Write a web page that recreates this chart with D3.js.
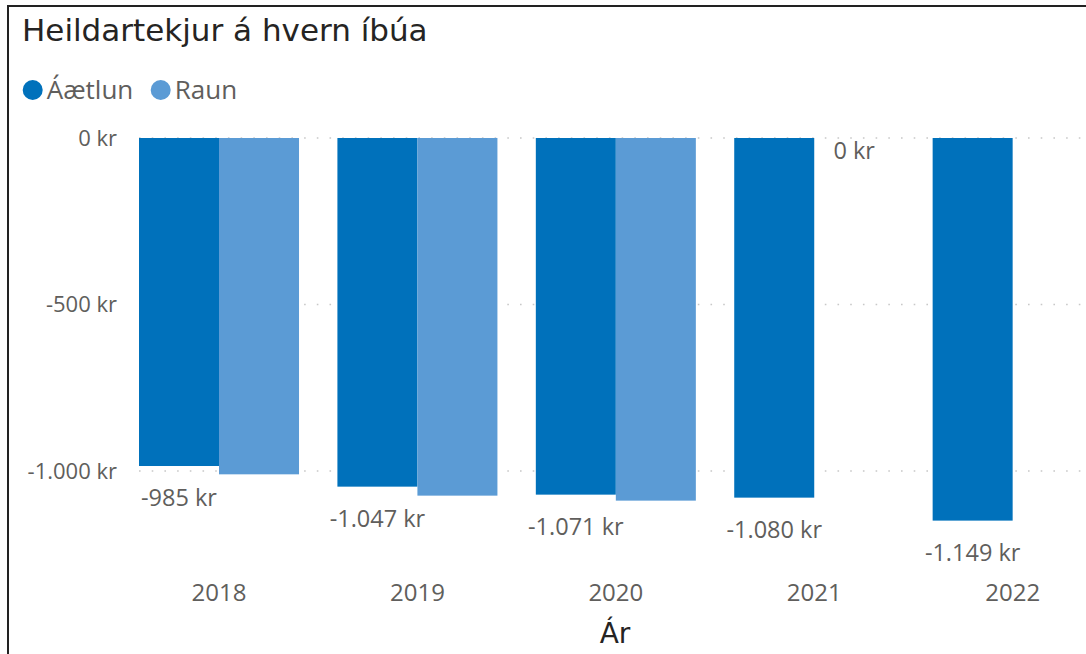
<!DOCTYPE html>
<html>
<head>
<meta charset="utf-8">
<script src="https://cdn.jsdelivr.net/npm/d3@7"></script>
<style>
  html, body { margin: 0; padding: 0; background: #fff; overflow: hidden; }
  svg { display: block; }
</style>
</head>
<body>
<svg id="chart" width="1086" height="654"></svg>
<script>
const years = ["2018", "2019", "2020", "2021", "2022"];
const seriesNames = ["Áætlun", "Raun"];
const aaetlun = [-985, -1047, -1071, -1080, -1149];
const raun = [-1010, -1074, -1089, 0, null];
const yTicks = [0, -500, -1000];
const yTickLabels = ["0 kr", "-500 kr", "-1.000 kr"];
const colors = ["#0071BB", "#5B9BD5"];

const titleText = "Heildartekjur á hvern íbúa";
const xTitle = "Ár";

const locale = d3.formatLocale({ decimal: ",", thousands: ".", grouping: [3], currency: ["", " kr"], minus: "-" });
const fmt = v => locale.format(",")(v) + " kr";

const svg = d3.select("#chart");
const W = 1086, H = 654;
const labelFont = "'Segoe UI', 'Open Sans', 'Noto Sans', sans-serif";
const titleFont = "'DejaVu Sans', sans-serif";

// frame
svg.append("rect").attr("x", 8).attr("y", 6).attr("width", 1200).attr("height", 800)
  .attr("fill", "none").attr("stroke", "#222").attr("stroke-width", 2);

// title
svg.append("text").attr("x", 22).attr("y", 41)
  .attr("font-family", titleFont).attr("font-size", 31)
  .attr("fill", "#252423").text(titleText);

// legend
const legend = svg.append("g");
const legX = [32.7, 160.7];
seriesNames.forEach((n, i) => {
  legend.append("circle").attr("cx", legX[i]).attr("cy", 90).attr("r", 10).attr("fill", colors[i]);
  legend.append("text").attr("x", legX[i] + 14).attr("y", 99)
    .attr("font-family", labelFont).attr("font-size", 26).attr("fill", "#605E5C").text(n);
});

// scales
const y = d3.scaleLinear().domain([-1200, 0]).range([537.6, 138]);
const x0 = d3.scaleBand().domain(years).range([119.16, 1112.5]).paddingInner(0.1935).paddingOuter(0.1);
const x1 = d3.scaleBand().domain(seriesNames).range([0, x0.bandwidth()]);

// gridlines
const grid = svg.append("g");
grid.selectAll("line").data(yTicks).join("line")
  .attr("x1", 139).attr("x2", W).attr("y1", d => y(d)).attr("y2", d => y(d))
  .attr("stroke", "#C8C8C8").attr("stroke-width", 1.6).attr("stroke-dasharray", "1.6,11.1");

// y axis
const yAxis = d3.axisLeft(y).tickValues(yTicks).tickFormat((d, i) => yTickLabels[i]).tickSize(0).tickPadding(0);
const yg = svg.append("g").attr("transform", "translate(117,0)").call(yAxis);
yg.select(".domain").remove();
yg.selectAll("text").attr("font-family", labelFont).attr("font-size", 22).attr("fill", "#605E5C").attr("dy", "0.32em");

// bars
const rows = years.map((yr, i) => ({ year: yr, vals: [aaetlun[i], raun[i]] }));
const groups = svg.append("g").selectAll("g").data(rows).join("g")
  .attr("transform", d => `translate(${x0(d.year)},0)`);
groups.selectAll("rect").data(d => d.vals.map((v, j) => ({ v, s: seriesNames[j], j })).filter(e => e.v !== null))
  .join("rect")
  .attr("x", e => x1(e.s)).attr("width", x1.bandwidth())
  .attr("y", y(0)).attr("height", e => y(e.v) - y(0))
  .attr("fill", e => colors[e.j]);

// data labels: Áætlun below bar ends
groups.append("text")
  .attr("x", x1("Áætlun") + x1.bandwidth() / 2)
  .attr("y", d => y(d.vals[0]) + 40)
  .attr("text-anchor", "middle").attr("font-family", labelFont).attr("font-size", 23.5).attr("fill", "#605E5C")
  .text(d => fmt(d.vals[0]));
// Raun zero label
groups.filter(d => d.vals[1] === 0).append("text")
  .attr("x", x1("Raun") + x1.bandwidth() / 2)
  .attr("y", y(0) + 21)
  .attr("text-anchor", "middle").attr("font-family", labelFont).attr("font-size", 23.5).attr("fill", "#605E5C")
  .text(d => fmt(d.vals[1]));

// x axis
const xAxis = d3.axisBottom(x0).tickSize(0).tickPadding(0);
const xg = svg.append("g").attr("transform", "translate(0,601)").call(xAxis);
xg.select(".domain").remove();
xg.selectAll("text").attr("font-family", labelFont).attr("font-size", 24).attr("fill", "#605E5C").attr("dy", 0);

// x title
svg.append("text").attr("x", 615).attr("y", 643).attr("text-anchor", "middle")
  .attr("font-family", titleFont).attr("font-size", 28).attr("fill", "#252423").text(xTitle);
</script>
</body>
</html>
